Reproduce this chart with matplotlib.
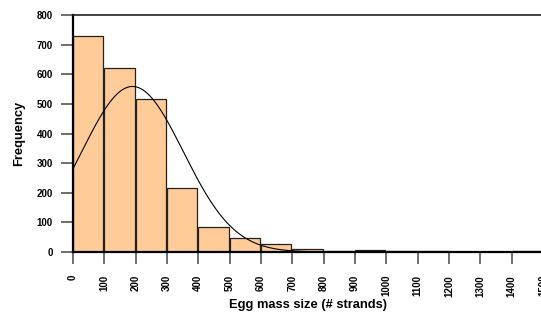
import numpy as np
import matplotlib
matplotlib.use("Agg")
import matplotlib.pyplot as plt

plt.rcParams['font.family'] = ['Liberation Sans', 'DejaVu Sans']

# histogram of egg mass sizes, bins of 100 strands
bin_edges = [0, 100, 200, 300, 400, 500, 600, 700, 800, 900, 1000,
             1100, 1200, 1300, 1400]
counts = [730, 622, 515, 215, 86, 47, 27, 10, 3, 7, 2, 2, 0, 1, 2]
bin_width = 100

# fitted normal curve parameters
fit_mean = 190
fit_sd = 162
fit_n = sum(counts)

x_ticks = list(range(0, 1600, 100))
y_ticks = [0, 100, 200, 300, 400, 500, 600, 700, 800]

fig = plt.figure(figsize=(5.41, 3.15), dpi=100)
ax = fig.add_axes([73/541, 63/315, 470/541, 237/315])

ax.bar(bin_edges, counts, width=97, align='edge', color='#FFCC99',
       edgecolor='#222222', linewidth=0.9, zorder=2)

xs = np.linspace(0, 1500, 600)
ys = fit_n * bin_width * np.exp(-(xs - fit_mean)**2 / (2 * fit_sd**2)) / (fit_sd * np.sqrt(2 * np.pi))
ax.plot(xs, ys, color='black', lw=0.8, zorder=3)

ax.axhline(0, color='black', lw=1.6, zorder=4, clip_on=False)

ax.set_xlim(0, 1500)
ax.set_ylim(0, 800)
ax.set_xticks(x_ticks)
ax.set_xticklabels([str(t) for t in x_ticks], rotation=90, fontsize=7,
                   fontweight='bold')
ax.set_yticks(y_ticks)
ax.set_yticklabels([str(t) for t in y_ticks], fontsize=7, fontweight='bold')
ax.tick_params(axis='both', length=8.5, width=1.2, color='#555555',
               direction='out', pad=6)
ax.tick_params(axis='x', pad=8)

for s in ['right', 'bottom']:
    ax.spines[s].set_visible(False)
ax.spines['left'].set_linewidth(1.6)
ax.spines['top'].set_linewidth(1.2)
ax.spines['top'].set_color('#222222')

ax.set_xlabel('Egg mass size (# strands)', fontsize=9.3, fontweight='bold',
              labelpad=2)
ax.set_ylabel('Frequency', fontsize=9.3, fontweight='bold', labelpad=8)

fig.savefig('out.png', dpi=100)
